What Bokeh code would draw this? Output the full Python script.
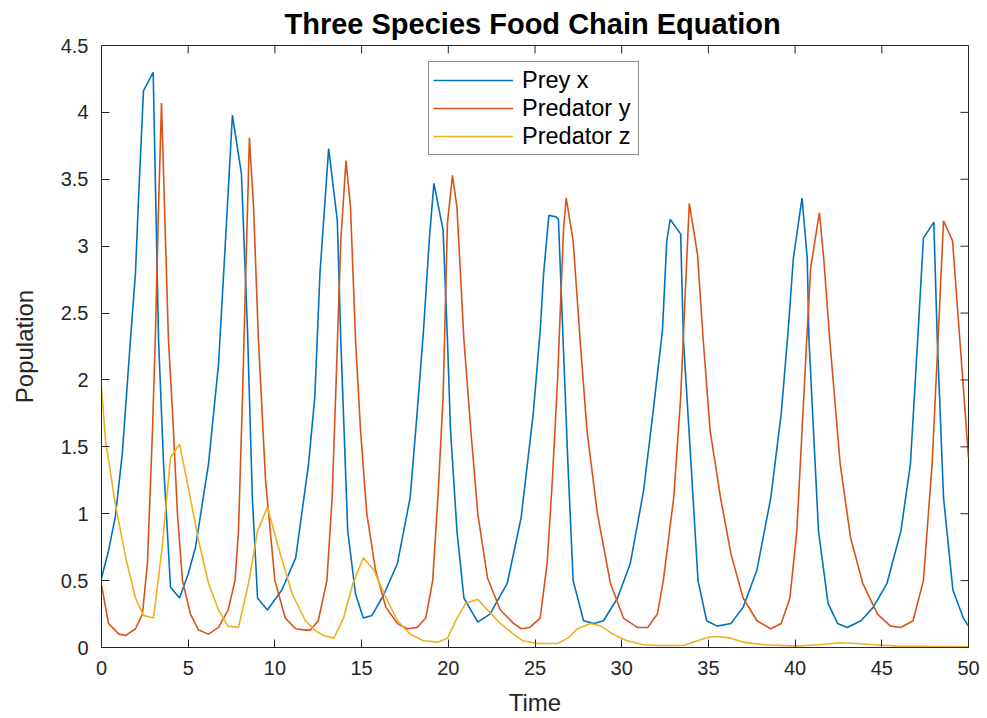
import math
from bokeh.plotting import figure
from bokeh.models import Legend, LegendItem, FixedTicker, Range1d, ColumnDataSource
from bokeh.embed import file_html
from bokeh.resources import INLINE

# ---------------- data ----------------
t_x = [0.0, 0.4, 0.8, 1.2, 1.67, 1.96, 2.13, 2.42, 2.98, 3.29, 3.58, 3.98, 4.5, 5.0, 5.42,
       6.17, 6.75, 7.15, 7.55, 8.07, 8.42, 8.7, 9.0, 9.57, 10.4, 11.2, 11.94, 12.3, 12.6,
       13.1, 13.6, 13.8, 14.2, 14.65, 15.1, 15.6, 16.3, 17.07, 17.8, 18.2, 18.57, 18.9,
       19.17, 19.7, 19.95, 20.13, 20.5, 20.9, 21.7, 22.4, 23.4, 24.2, 24.9, 25.3, 25.5,
       25.8, 26.2, 26.35, 26.6, 26.9, 27.2, 27.8, 28.4, 28.95, 29.76, 30.5, 31.26, 31.8,
       32.35, 32.6, 32.8, 33.4, 33.56, 34.0, 34.4, 34.9, 35.5, 36.3, 37.0, 37.8, 38.6,
       39.2, 39.6, 39.9, 40.4, 40.7, 40.8, 41.35, 41.9, 42.45, 43.0, 43.8, 44.5, 45.3,
       46.1, 46.65, 47.1, 47.4, 48.0, 48.2, 48.56, 49.1, 49.7, 50.0]
prey_x = [0.52, 0.72, 0.98, 1.45, 2.3, 2.8, 3.34, 4.16, 4.30, 2.3, 1.37, 0.45, 0.37, 0.55, 0.75,
          1.37, 2.12, 3.04, 3.98, 3.54, 2.37, 1.12, 0.37, 0.28, 0.43, 0.67, 1.37, 1.87, 2.8,
          3.73, 3.19, 2.3, 0.87, 0.40, 0.22, 0.24, 0.40, 0.63, 1.12, 1.75, 2.37, 3.04,
          3.47, 3.12, 2.3, 1.62, 0.87, 0.37, 0.19, 0.25, 0.48, 0.97, 1.75, 2.37, 2.8,
          3.23, 3.22, 3.2, 2.37, 1.37, 0.5, 0.2, 0.18, 0.2, 0.37, 0.63, 1.17, 1.75,
          2.37, 3.04, 3.2, 3.09, 2.3, 1.37, 0.5, 0.2, 0.16, 0.18, 0.3, 0.58, 1.12,
          1.75, 2.37, 2.91, 3.36, 2.91, 2.3, 0.87, 0.33, 0.18, 0.15, 0.2, 0.3, 0.48,
          0.87, 1.37, 2.37, 3.06, 3.18, 2.3, 1.12, 0.43, 0.22, 0.16]

t_y = [0.0, 0.4, 1.0, 1.4, 1.96, 2.36, 2.65, 2.94, 3.1, 3.29, 3.46, 3.58, 3.86, 4.1, 4.38,
       4.67, 5.13, 5.6, 6.17, 6.75, 7.3, 7.7, 7.9, 8.13, 8.53, 8.77, 9.05, 9.46, 10.0,
       10.6, 11.2, 11.76, 12.05, 12.5, 13.0, 13.3, 13.5, 13.8, 14.1, 14.36, 14.65, 14.94,
       15.3, 15.8, 16.4, 17.07, 17.65, 18.2, 18.7, 19.1, 19.4, 19.7, 19.95, 20.24, 20.5,
       20.9, 21.3, 21.7, 22.26, 23.0, 23.76, 24.2, 24.7, 25.3, 25.7, 26.0, 26.3, 26.65,
       26.8, 27.2, 27.6, 28.0, 28.6, 29.35, 30.1, 30.9, 31.5, 32.06, 32.4, 33.0, 33.4,
       33.8, 33.9, 34.37, 34.7, 35.1, 35.7, 36.3, 37.0, 37.8, 38.6, 39.2, 39.7, 40.1,
       40.4, 40.7, 40.9, 41.4, 41.65, 42.0, 42.6, 43.2, 43.9, 44.75, 45.5, 46.1, 46.8,
       47.4, 47.9, 48.27, 48.56, 49.08, 49.5, 50.0]
pred_y = [0.47, 0.18, 0.1, 0.09, 0.14, 0.25, 0.63, 1.62, 2.3, 3.29, 4.07, 3.54, 2.3, 1.75, 1.0,
          0.5, 0.25, 0.13, 0.1, 0.15, 0.28, 0.5, 0.87, 1.87, 3.81, 3.29, 2.3, 1.25, 0.5,
          0.22, 0.14, 0.13, 0.13, 0.2, 0.5, 1.12, 1.87, 3.04, 3.64, 3.29, 2.3, 1.62,
          1.0, 0.58, 0.3, 0.18, 0.14, 0.15, 0.22, 0.5, 1.12, 1.87, 3.17, 3.53, 3.29,
          2.3, 1.62, 1.0, 0.52, 0.28, 0.18, 0.14, 0.15, 0.22, 0.63, 1.25, 2.0, 3.14,
          3.36, 3.04, 2.3, 1.62, 1.0, 0.48, 0.22, 0.15, 0.15, 0.25, 0.5, 1.12, 1.87,
          3.04, 3.32, 2.94, 2.3, 1.62, 1.12, 0.7, 0.37, 0.2, 0.14, 0.18, 0.37, 0.87,
          1.62, 2.37, 2.84, 3.25, 2.91, 2.3, 1.37, 0.82, 0.48, 0.25, 0.16, 0.15, 0.2,
          0.5, 1.37, 2.37, 3.19, 3.04, 2.3, 1.42]

t_z = [0.0, 0.23, 0.8, 1.4, 1.96, 2.42, 3.0, 3.5, 3.98, 4.5, 5.0, 5.6, 6.17, 6.75, 7.3, 7.9,
       8.48, 9.0, 9.57, 10.2, 11.0, 11.76, 12.3, 12.8, 13.4, 13.96, 14.5, 15.1, 15.7, 16.3,
       17.07, 17.8, 18.57, 19.4, 19.95, 20.5, 21.0, 21.7, 22.26, 23.0, 23.76, 24.3, 25.1,
       26.3, 26.9, 27.45, 28.2, 28.8, 29.5, 30.3, 31.26, 32.2, 33.56, 34.37, 35.1, 35.7,
       36.3, 37.0, 38.2, 40.1, 41.3, 42.6, 43.6, 44.5, 45.9, 50.0]
pred_z = [1.94, 1.55, 1.07, 0.67, 0.37, 0.24, 0.22, 0.75, 1.42, 1.52, 1.2, 0.8, 0.48, 0.28, 0.16,
          0.15, 0.48, 0.87, 1.05, 0.75, 0.4, 0.2, 0.13, 0.09, 0.07, 0.22, 0.48, 0.67, 0.58,
          0.4, 0.2, 0.1, 0.05, 0.04, 0.07, 0.22, 0.33, 0.36, 0.28, 0.18, 0.1, 0.05, 0.03,
          0.03, 0.07, 0.14, 0.18, 0.16, 0.1, 0.05, 0.02, 0.015, 0.015, 0.05, 0.08, 0.08,
          0.07, 0.04, 0.02, 0.01, 0.02, 0.035, 0.03, 0.02, 0.01, 0.005]

series_names = ["Prey x", "Predator y", "Predator z"]
series_colors = ["#0072BD", "#D95319", "#EDB120"]

x_ticks = [0, 5, 10, 15, 20, 25, 30, 35, 40, 45, 50]
y_ticks = [0, 0.5, 1, 1.5, 2, 2.5, 3, 3.5, 4, 4.5]
y_tick_labels = ["0", "0.5", "1", "1.5", "2", "2.5", "3", "3.5", "4", "4.5"]
x_range = (0, 50)
y_range = (0, 4.5)

FONT = "Liberation Sans"
AX = "#262626"
TICK = 8

p = figure(width=987, height=718, output_backend="svg", toolbar_location=None,
           x_range=Range1d(*x_range), y_range=Range1d(*y_range),
           min_border_left=101, min_border_right=19, min_border_top=45, min_border_bottom=71,
           x_axis_label="Time", y_axis_label="Population",
           title="Three Species Food Chain Equation")
p.background_fill_color = "white"
p.border_fill_color = "white"
p.outline_line_color = AX
p.outline_line_width = 1
p.xgrid.visible = False
p.ygrid.visible = False

p.title.align = "left"
p.title.offset = 183
p.title.text_font = FONT
p.title.text_font_size = "29px"
p.title.text_font_style = "bold"
p.title.text_color = "black"
p.title.standoff = 11

renderers = []
for tt, vv, col in zip([t_x, t_y, t_z], [prey_x, pred_y, pred_z], series_colors):
    r = p.line(tt, vv, line_color=col, line_width=1.6)
    renderers.append(r)

for ax in (p.xaxis[0], p.yaxis[0]):
    ax.major_tick_in = TICK
    ax.major_tick_out = 0
    ax.minor_tick_in = 0
    ax.minor_tick_out = 0
    ax.axis_line_color = AX
    ax.major_tick_line_color = AX
    ax.major_label_text_color = AX
    ax.major_label_text_font = FONT
    ax.major_label_text_font_size = "20px"
    ax.axis_label_text_font = FONT
    ax.axis_label_text_font_size = "24px"
    ax.axis_label_text_font_style = "normal"
    ax.axis_label_text_color = AX

p.xaxis[0].ticker = FixedTicker(ticks=x_ticks)
p.yaxis[0].ticker = FixedTicker(ticks=y_ticks)
p.yaxis[0].major_label_overrides = {v: s for v, s in zip(y_ticks, y_tick_labels)}
p.xaxis[0].major_label_standoff = 13
p.xaxis[0].axis_label_standoff = 11
p.yaxis[0].major_label_standoff = 13
p.yaxis[0].axis_label_standoff = 20

# mirrored inward ticks on the top and right edges (box on); the outer half is clipped by the frame
top_src = ColumnDataSource(dict(x=x_ticks, y=[y_range[1]] * len(x_ticks)))
right_src = ColumnDataSource(dict(x=[x_range[1]] * len(y_ticks), y=y_ticks))
p.scatter("x", "y", source=top_src, marker="dash", size=2 * TICK, angle=math.pi / 2,
          line_color=AX, line_width=1)
p.scatter("x", "y", source=right_src, marker="dash", size=2 * TICK,
          line_color=AX, line_width=1)

legend = Legend(items=[LegendItem(label=n, renderers=[r]) for n, r in zip(series_names, renderers)],
                location=(327, 492))
legend.border_line_color = AX
legend.border_line_width = 1
legend.background_fill_color = "white"
legend.background_fill_alpha = 1
legend.label_text_font = FONT
legend.label_text_font_size = "23.5px"
legend.label_text_color = "black"
legend.glyph_width = 80
legend.glyph_height = 28
legend.label_height = 28
legend.label_width = 112
legend.label_standoff = 9
legend.padding = 4
legend.spacing = 0
legend.margin = 0
p.add_layout(legend, "center")

open("out.html", "w").write(file_html(p, INLINE))
